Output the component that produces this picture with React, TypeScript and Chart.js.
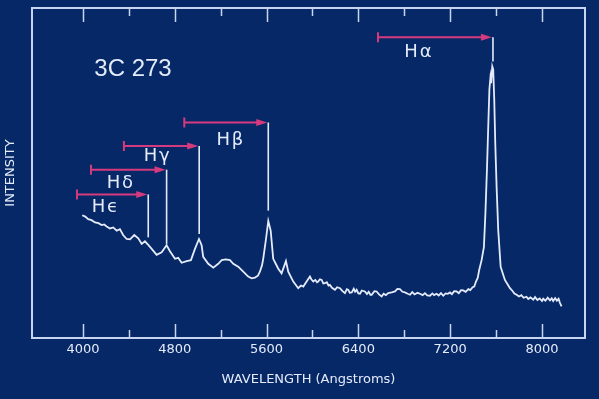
import React, { useEffect, useRef } from "react";
import { Chart, registerables } from "chart.js";

Chart.register(...registerables);

// Spectrum of quasar 3C 273 (wavelength in Angstroms, relative intensity)
const WAVELENGTH = [
  3994, 4020, 4046, 4075, 4105, 4135, 4163, 4185, 4207, 4235, 4264, 4294, 4322, 4350, 4381, 4410, 4447, 4482, 4512, 4540,
  4569, 4599, 4642, 4686, 4729, 4758, 4802, 4830, 4860, 4904, 4941, 4976, 5011, 5034, 5048, 5092, 5136, 5179, 5209, 5245,
  5281, 5310, 5353, 5397, 5440, 5470, 5499, 5525, 5542, 5560, 5571, 5595, 5615, 5636, 5658, 5680, 5702, 5731, 5769, 5789,
  5833, 5876, 5900, 5920, 5949, 5978, 5990, 6007, 6025, 6040, 6050, 6065, 6080, 6095, 6109, 6125, 6140, 6152, 6170, 6196,
  6215, 6240, 6260, 6283, 6300, 6312, 6325, 6342, 6360, 6372, 6385, 6400, 6414, 6430, 6457, 6475, 6490, 6505, 6516, 6540,
  6559, 6580, 6603, 6620, 6640, 6660, 6690, 6719, 6740, 6762, 6785, 6806, 6830, 6850, 6870, 6890, 6915, 6937, 6960, 6980,
  7000, 7024, 7045, 7060, 7082, 7100, 7120, 7140, 7160, 7180, 7198, 7215, 7235, 7256, 7275, 7295, 7314, 7335, 7358, 7375,
  7396, 7410, 7425, 7440, 7453, 7474, 7494, 7507, 7521, 7534, 7542, 7551, 7557, 7567, 7575, 7584, 7593, 7605, 7619, 7640,
  7660, 7677, 7700, 7721, 7740, 7760, 7779, 7800, 7820, 7840, 7865, 7880, 7900, 7924, 7940, 7960, 7980, 8000, 8011, 8030,
  8050, 8070, 8085, 8098, 8115, 8130, 8145, 8157, 8171,
];
const INTENSITY = [
  37.2, 36.8, 36.0, 35.7, 35.0, 34.8, 34.2, 34.4, 33.8, 33.2, 33.5, 32.5, 33.0, 31.2, 30.0, 29.9, 31.2, 30.2, 28.5, 29.3,
  28.2, 27.0, 25.2, 26.0, 28.1, 26.3, 24.0, 24.3, 22.8, 23.3, 23.6, 27.0, 30.0, 28.1, 24.6, 22.5, 21.3, 22.5, 23.6, 23.8,
  23.6, 22.5, 21.6, 20.1, 18.6, 18.1, 18.3, 18.9, 20.1, 22.0, 24.0, 30.0, 35.5, 32.5, 24.0, 22.5, 21.0, 19.6, 23.3, 20.1,
  17.1, 15.1, 15.9, 15.6, 17.1, 18.6, 17.8, 17.1, 17.6, 16.9, 17.1, 17.8, 17.6, 16.5, 16.6, 16.9, 15.9, 16.1, 15.2, 14.6,
  15.4, 15.1, 14.3, 13.6, 14.8, 14.6, 13.7, 13.8, 14.9, 14.0, 14.6, 13.5, 13.4, 14.4, 14.1, 13.3, 14.0, 13.1, 13.1, 14.2,
  14.1, 13.2, 12.6, 13.4, 13.0, 13.6, 13.8, 14.1, 14.9, 14.8, 14.0, 13.8, 13.4, 13.1, 13.9, 13.2, 13.7, 13.4, 13.0, 13.6,
  12.9, 12.8, 13.5, 13.0, 13.4, 12.9, 13.6, 12.8, 13.5, 13.4, 13.8, 13.3, 14.2, 14.1, 13.6, 14.5, 14.4, 14.0, 14.8, 14.5,
  15.4, 15.6, 17.1, 18.2, 20.6, 23.6, 27.5, 37.7, 51.5, 66.5, 75.4, 79.0, 77.2, 82.3, 81.4, 72.5, 59.0, 45.5, 32.6, 21.6,
  19.4, 17.6, 16.3, 15.1, 14.4, 13.5, 13.1, 12.6, 13.0, 12.2, 12.5, 11.8, 12.3, 11.6, 12.4, 11.5, 12.0, 11.2, 11.9, 11.3,
  12.2, 11.4, 12.0, 11.2, 12.1, 11.3, 11.9, 10.6, 9.6,
];

// Axis ticks
const MAJOR_TICKS = [4000, 4800, 5600, 6400, 7200, 8000];
const MINOR_TICKS = [4400, 5200, 6000, 6800, 7600];

// Balmer line markers
const LINE_LABELS = ["H\u200A\u03F5", "H\u200A\u03B4", "H\u200A\u03B3", "H\u200A\u03B2", "H\u200A\u03B1"];
const LINE_WL = [4569, 4729, 5013, 5615, 7573];
const ARROW_START_WL = [3948, 4070, 4357, 4883, 6571];
const ARROW_LEVEL = [43.5, 51.0, 58.2, 65.3, 91.1];
const LINE_BOTTOM = [30.5, 28.5, 31.5, 38.6, 83.8];
const LABEL_WL = [4192, 4322, 4642, 5281, 6919];
const LABEL_LEVEL = [39.5, 47.0, 55.1, 60.0, 86.5];

const OBJECT_NAME = "3C 273";
const OBJECT_WL = 4436;
const OBJECT_LEVEL = 81.4;

const BG = "#072866";
const FG = "#e4ebfb";
const FRAME = "#c8d5f2";
const MAGENTA = "#d63a7e";

const decorPlugin = {
  id: "decor",
  beforeDatasetsDraw(chart: any) {
    const { ctx, chartArea } = chart;
    const xs = chart.scales.x;
    const { left, right, top, bottom } = chartArea;
    ctx.save();
    ctx.strokeStyle = FRAME;
    ctx.lineWidth = 2;
    ctx.strokeRect(left, top, right - left, bottom - top);
    const drawTick = (v: number, len: number) => {
      const px = Math.round(xs.getPixelForValue(v)) + 0.5;
      ctx.beginPath();
      ctx.moveTo(px, bottom);
      ctx.lineTo(px, bottom - len);
      ctx.moveTo(px, top);
      ctx.lineTo(px, top + len);
      ctx.stroke();
    };
    ctx.lineWidth = 1.5;
    MAJOR_TICKS.forEach((v) => drawTick(v, 14));
    MINOR_TICKS.forEach((v) => drawTick(v, 8));
    ctx.restore();
  },
  afterDatasetsDraw(chart: any) {
    const { ctx } = chart;
    const xs = chart.scales.x;
    const ys = chart.scales.y;
    ctx.save();
    for (let i = 0; i < LINE_WL.length; i++) {
      const px = xs.getPixelForValue(LINE_WL[i]);
      const ay = ys.getPixelForValue(ARROW_LEVEL[i]);
      const by = ys.getPixelForValue(LINE_BOTTOM[i]);
      const sx = xs.getPixelForValue(ARROW_START_WL[i]);
      // vertical marker
      ctx.strokeStyle = FG;
      ctx.lineWidth = 1.6;
      ctx.beginPath();
      ctx.moveTo(px, ay);
      ctx.lineTo(px, by);
      ctx.stroke();
      // arrow
      ctx.strokeStyle = MAGENTA;
      ctx.fillStyle = MAGENTA;
      ctx.lineWidth = 2;
      ctx.beginPath();
      ctx.moveTo(sx, ay);
      ctx.lineTo(px - 8, ay);
      ctx.moveTo(sx, ay - 5);
      ctx.lineTo(sx, ay + 5);
      ctx.stroke();
      ctx.beginPath();
      ctx.moveTo(px - 12, ay - 3.5);
      ctx.lineTo(px - 1, ay);
      ctx.lineTo(px - 12, ay + 3.5);
      ctx.closePath();
      ctx.fill();
      // label
      ctx.fillStyle = FG;
      ctx.font = "18px 'DejaVu Sans'";
      ctx.textAlign = "center";
      ctx.textBaseline = "middle";
      ctx.fillText(LINE_LABELS[i], xs.getPixelForValue(LABEL_WL[i]), ys.getPixelForValue(LABEL_LEVEL[i]));
    }
    ctx.fillStyle = FG;
    ctx.font = "24px 'Liberation Sans'";
    ctx.textAlign = "center";
    ctx.textBaseline = "middle";
    ctx.fillText(OBJECT_NAME, xs.getPixelForValue(OBJECT_WL), ys.getPixelForValue(OBJECT_LEVEL));
    ctx.restore();
  },
};

export default function App() {
  const ref = useRef<HTMLCanvasElement | null>(null);
  useEffect(() => {
    if (!ref.current) return;
    const chart = new Chart(ref.current, {
      type: "line",
      data: {
        datasets: [
          {
            data: WAVELENGTH.map((w, i) => ({ x: w, y: INTENSITY[i] })),
            borderColor: FG,
            borderWidth: 1.8,
            pointRadius: 0,
            tension: 0,
            fill: false,
          },
        ],
      },
      options: {
        animation: false,
        responsive: false,
        devicePixelRatio: 1,
        layout: { padding: { left: 0, top: 8, right: 14, bottom: 0 } },
        plugins: { legend: { display: false }, tooltip: { enabled: false } },
        scales: {
          x: {
            type: "linear",
            min: 3556,
            max: 8375,
            position: "bottom",
            grid: { display: false, drawTicks: false },
            border: { display: false },
            afterBuildTicks: (s: any) => {
              s.ticks = MAJOR_TICKS.map((v) => ({ value: v }));
            },
            ticks: {
              color: FG,
              padding: 4,
              maxRotation: 0,
              autoSkip: false,
              font: { family: "'DejaVu Sans'", size: 13 },
              callback: (v: any) => String(v),
            },
            title: {
              display: true,
              text: "WAVELENGTH (Angstroms)",
              color: FG,
              font: { family: "'DejaVu Sans'", size: 13 },
              padding: { top: 10, bottom: 11.8 },
            },
          },
          y: {
            type: "linear",
            min: 0,
            max: 100,
            grid: { display: false, drawTicks: false },
            border: { display: false },
            ticks: { display: false },
            title: {
              display: true,
              text: "INTENSITY",
              color: FG,
              font: { family: "'DejaVu Sans'", size: 13 },
              padding: { top: 3, bottom: 13.4 },
            },
          },
        },
      },
      plugins: [decorPlugin],
    });
    return () => chart.destroy();
  }, []);
  return (
    <div style={{ position: "fixed", left: 0, top: 0, width: 599, height: 399, background: BG }}>
      <canvas ref={ref} width={599} height={399} style={{ display: "block" }} />
    </div>
  );
}
